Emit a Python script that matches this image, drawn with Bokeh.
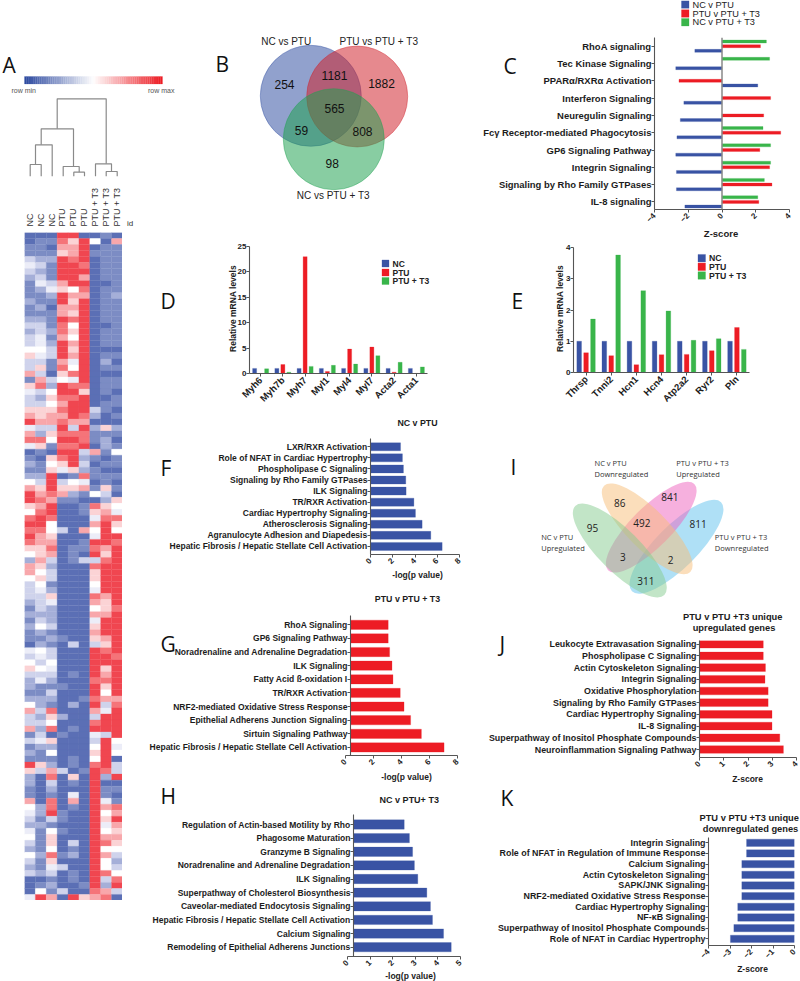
import math
from bokeh.embed import file_html
from bokeh.resources import INLINE
from bokeh.plotting import figure
from bokeh.layouts import column
from bokeh.models import Range1d, FactorRange, FixedTicker, Label, Span, ColumnDataSource
from bokeh.transform import dodge

BLUE, RED, GREEN = "#3953a4", "#ed1c24", "#39b54a"
INK = "#1c1c1c"
AXIS = "#555555"
BOLD = "Liberation Sans"

# ---------- data ----------
SAMPLES = ["NC", "NC", "NC", "PTU", "PTU", "PTU", "PTU + T3", "PTU + T3", "PTU + T3"]
HEAT_NC1 = ("0011343211" "12112323"
            "3563371643" "3679478401" "2125799658" "9898652775" "3332121211" "043"
            "5632212573" "3713121962" "2117543245" "3253230004")
HEAT_NC2 = ("0111232342" "11212334"
            "4543637832" "3667328610" "1123678789" "9877667656" "5433323521" "254"
            "3534112232" "3234211630" "0000221211" "1121120159")
HEAT_NC3 = ("0101211134" "21011121"
            "2331103256" "5677365106" "5699987998" "5567873233" "1264222312" "133"
            "5432132186" "5806251278" "3218893156" "6586431217")
HEAT_PTU1 = ("9876999976" "99779887"
             "9997865998" "7878989898" "6403671000" "0300000000" "0000000001" "000"
             "0000100002" "0010000030" "0000011010" "0010300030")
HEAT_PTU2 = ("9677899995" "76768565"
             "7674584898" "9997389899" "9615621000" "0000111000" "0000000000" "300"
             "0010000200" "0100001106" "1047100000" "3120011009")
HEAT_PTU3 = ("0999989798" "79999999"
             "9999999869" "9987988932" "3284710110" "0701103000" "0000000000" "000"
             "0000001000" "0000000010" "0000000000" "0000000106")
HEAT_T31 = ("0501000000" "00000000"
            "0000000000" "0320211071" "0110150864" "7549893866" "5487574676" "399"
            "9998998973" "8943565899" "9999999999" "9999999987")
HEAT_T32 = ("1011111101" "11111011"
            "1012101110" "1100612210" "1011632678" "9999768999" "9976679997" "689"
            "9678657349" "9939999982" "0114756457" "8575583278")
HEAT_T33 = ("0711111111" "21111111"
            "1010101101" "1010210151" "1010106548" "6598999999" "9999899999" "998"
            "9999997899" "9995450339" "0101879767" "6532358930")
HEAT_LEVELS = ["#5b6fb5", "#7c8cc4", "#a5afd8", "#cfd3ec", "#ecedf8",
               "#ffffff", "#fbd3d5", "#f8a7ab", "#f57479", "#f04650"]

# merge: x-left, x-right, height, left leg end, right leg end
DENDRO = [(56.7, 105.7, 98.3, 128.3, 163.3),
          (40.7, 73.0, 128.3, 144.3, 165.7),
          (35.0, 51.7, 144.3, 164.0, 175.7),
          (29.7, 40.7, 164.0, 175.7, 175.7),
          (62.7, 78.7, 166.0, 175.7, 171.7),
          (73.3, 84.0, 171.7, 175.7, 175.7),
          (95.0, 111.0, 163.3, 175.7, 171.0),
          (105.7, 116.7, 171.0, 175.7, 175.7)]

C_PATHS = ["RhoA signaling", "Tec Kinase Signaling", "PPARα/RXRα Activation", "Interferon Signaling",
           "Neuregulin Signaling", "Fcγ Receptor-mediated Phagocytosis", "GP6 Signaling Pathway",
           "Integrin Signaling", "Signaling by Rho Family GTPases", "IL-8 signaling"]
C_NC_PTU = [-1.61, -2.74, 2.12, -2.26, -2.47, -2.67, -2.74, -2.70, -2.70, -2.20]
C_PTU_T3 = [2.28, None, -2.55, 2.88, 2.47, 3.48, 2.24, 2.82, 2.96, 2.18]
C_NC_T3 = [2.63, 2.82, None, None, None, 2.43, 2.88, 2.88, 2.51, 2.12]

D_GENES = ["Myh6", "Myh7b", "Myh7", "Myl1", "Myl4", "Myl7", "Acta2", "Acta1"]
D_NC = [1, 1, 1, 1, 1, 1, 1, 1]
D_PTU = [0.02, 1.76, 23, 0.4, 4.8, 5.2, 0.25, 0.02]
D_T3 = [0.92, 0.25, 1.4, 1.6, 1.85, 3.5, 2.2, 1.3]

E_GENES = ["Thrsp", "Tnni2", "Hcn1", "Hcn4", "Atp2a2", "Ryr2", "Pln"]
E_NC = [1, 1, 1, 1, 1, 1, 1]
E_PTU = [0.63, 0.54, 0.25, 0.57, 0.58, 0.70, 1.44]
E_T3 = [1.71, 3.76, 2.62, 1.97, 1.03, 1.08, 0.74]

F_PATHS = ["LXR/RXR Activation", "Role of NFAT in Cardiac Hypertrophy", "Phospholipase C Signaling",
           "Signaling by Rho Family GTPases", "ILK Signaling", "TR/RXR Activation",
           "Cardiac Hypertrophy Signaling", "Atherosclerosis Signaling",
           "Agranulocyte Adhesion and Diapedesis", "Hepatic Fibrosis / Hepatic Stellate Cell Activation"]
F_VALS = [2.7, 2.87, 2.96, 3.17, 3.2, 3.9, 4.04, 4.64, 5.42, 6.44]

G_PATHS = ["RhoA Signaling", "GP6 Signaling Pathway", "Noradrenaline and Adrenaline Degradation",
           "ILK Signaling", "Fatty Acid ß-oxidation I", "TR/RXR Activation",
           "NRF2-mediated Oxidative Stress Response", "Epithelial Adherens Junction Signaling",
           "Sirtuin Signaling Pathway", "Hepatic Fibrosis / Hepatic Stellate Cell Activation"]
G_VALS = [3.05, 3.05, 3.15, 3.32, 3.39, 3.91, 4.18, 4.65, 5.42, 7.04]

H_PATHS = ["Regulation of Actin-based Motility by Rho", "Phagosome Maturation", "Granzyme B Signaling",
           "Noradrenaline and Adrenaline Degradation", "ILK Signaling",
           "Superpathway of Cholesterol Biosynthesis", "Caveolar-mediated Endocytosis Signaling",
           "Hepatic Fibrosis / Hepatic Stellate Cell Activation", "Calcium Signaling",
           "Remodeling of Epithelial Adherens Junctions"]
H_VALS = [2.51, 2.74, 2.88, 2.96, 3.11, 3.51, 3.67, 3.76, 4.25, 4.59]

J_PATHS = ["Leukocyte Extravasation Signaling", "Phospholipase C Signaling", "Actin Cytoskeleton Signaling",
           "Integrin Signaling", "Oxidative Phosphorylation", "Signaling by Rho Family GTPases",
           "Cardiac Hypertrophy Signaling", "IL-8 Signaling",
           "Superpathway of Inositol Phosphate Compounds", "Neuroinflammation Signaling Pathway"]
J_VALS = [2.63, 2.63, 2.72, 2.70, 2.83, 2.83, 2.99, 2.99, 3.31, 3.46]

K_PATHS = ["Integrin Signaling", "Role of NFAT in Regulation of Immune Response", "Calcium Signaling",
           "Actin Cytoskeleton Signaling", "SAPK/JNK Signaling", "NRF2-mediated Oxidative Stress Response",
           "Cardiac Hypertrophy Signaling", "NF-κB Signaling",
           "Superpathway of Inositol Phosphate Compounds", "Role of NFAT in Cardiac Hypertrophy"]
K_VALS = [-2.23, -2.23, -2.45, -2.45, -2.45, -2.45, -2.64, -2.64, -2.82, -2.98]

VENN_B_SETS = ["NC vs PTU", "PTU vs PTU + T3", "NC vs PTU + T3"]
VENN_B_COUNTS = ["254", "1181", "1882", "565", "59", "808", "98"]
VENN_I_COUNTS = ["95", "86", "841", "492", "811", "3", "2", "311"]

# ---------- helpers ----------
panels = []


def base(width, height, x_range, y_range, left, right, top, bottom):
    p = figure(width=width, height=height, x_range=x_range, y_range=y_range,
               toolbar_location=None, output_backend="svg", min_border_left=left,
               min_border_right=right, min_border_top=top, min_border_bottom=bottom,
               background_fill_color=None, border_fill_color=None, outline_line_color=None)
    p.grid.visible = False
    p.frame_align = False
    return p


def style_axis(ax, size, tick_size=None, standoff=2):
    ax.axis_line_color = AXIS
    ax.axis_line_width = 1.1
    ax.major_tick_line_color = AXIS
    ax.major_tick_out = 3
    ax.major_tick_in = 0
    ax.minor_tick_line_color = None
    ax.major_label_text_font = BOLD
    ax.major_label_text_font_style = "bold"
    ax.major_label_text_color = INK
    ax.major_label_text_font_size = f"{tick_size or size}px"
    ax.major_label_standoff = standoff


def hbar_panel(paths, vals, color, pleft, x0, x1, vmin, vmax, ticks, top, bottom, first, step,
               barh, axis_px=None, lab=8):
    """axis_px: page x of the y axis when it stands off from the x axis' zero tick."""
    ptop = top - 4
    width = x1 + 6 - pleft
    height = bottom + 28 - ptop
    rng_y = Range1d((bottom - first) / step, (top - first) / step)
    if axis_px is not None:
        # the x axis runs a little further left than the y axis: it gets a frame of its own
        px = base(width, height, Range1d(vmin, vmax), Range1d(0, 1), x0 - pleft, 6, top - ptop, 28)
        style_axis(px.xaxis[0], lab, 8)
        px.xaxis[0].ticker = FixedTicker(ticks=ticks)
        px.xaxis[0].major_label_orientation = math.pi / 4
        px.yaxis.visible = False
        panels.append((px, pleft, ptop))
        start = vmin + (axis_px - x0) * (vmax - vmin) / (x1 - x0)
        p = base(width, height, Range1d(start, vmax), rng_y, axis_px - pleft, 6, top - ptop, 28)
        p.xaxis.visible = False
        bar_from = start
    else:
        p = base(width, height, Range1d(vmin, vmax), rng_y, x0 - pleft, 6, top - ptop, 28)
        style_axis(p.xaxis[0], lab, 8)
        p.xaxis[0].ticker = FixedTicker(ticks=ticks)
        p.xaxis[0].major_label_orientation = math.pi / 4
        bar_from = 0
    p.hbar(y=list(range(len(vals))), left=bar_from, right=vals, height=barh / step,
           fill_color=color, line_color=color, line_alpha=0.25)
    style_axis(p.yaxis[0], lab, standoff=0)
    p.yaxis[0].ticker = FixedTicker(ticks=list(range(len(vals))))
    p.yaxis[0].major_label_overrides = {i: s for i, s in enumerate(paths)}
    panels.append((p, pleft, ptop))
    return p


def group_panel(genes, nc, ptu, t3, pleft, x0, x1, top, bottom, ymax, ticks, step_frac, w_frac):
    ptop = top - 6
    rr = FactorRange(factors=genes, factor_padding=0, range_padding=0)
    p = base(x1 + 4 - pleft, bottom + 36 - ptop, rr, Range1d(0, ymax), x0 - pleft, 4, top - ptop, 36)
    src = ColumnDataSource(dict(g=genes, nc=nc, ptu=ptu, t3=t3))
    for col, off, c in (("nc", -step_frac, BLUE), ("ptu", 0, RED), ("t3", step_frac, GREEN)):
        p.vbar(x=dodge("g", off, range=rr), top=col, bottom=0, width=w_frac, source=src,
               fill_color=c, line_color=c, line_alpha=0.25)
    style_axis(p.yaxis[0], 8, standoff=0)
    p.yaxis[0].ticker = FixedTicker(ticks=ticks)
    style_axis(p.xaxis[0], 9.5)
    p.xaxis[0].major_label_orientation = math.pi / 4
    panels.append((p, pleft, ptop))
    return p


# ---------- A heatmap ----------
heat_cols = [HEAT_NC1, HEAT_NC2, HEAT_NC3, HEAT_PTU1, HEAT_PTU2, HEAT_PTU3, HEAT_T31, HEAT_T32, HEAT_T33]
nrows = len(HEAT_NC1)
L, R, T, B, C = [], [], [], [], []
for ci, col in enumerate(heat_cols):
    for ri, ch in enumerate(col):
        L.append(ci); R.append(ci + 1); T.append(ri); B.append(ri + 1)
        C.append(HEAT_LEVELS[int(ch)])
hm = base(98, 668, Range1d(0, 9), Range1d(nrows, 0), 0, 0, 0, 0)
hm.quad(left=L, right=R, top=T, bottom=B, fill_color=C, line_color=C, line_width=0.3)
hm.xaxis.visible = False
hm.yaxis.visible = False
panels.append((hm, 24, 232))

# ---------- C ----------
c_top, c_bot = 37, 209
c_first, c_step = 45.7, 17.3
c_rng = Range1d((c_bot - c_first) / c_step, (c_top - c_first) / c_step)
pc = base(800 - 480, c_bot + 34 - (c_top - 4), Range1d(-4, 4), c_rng, 652 - 480, 800 - 789, 4, 34)
for vals, off, color in ((C_NC_T3, -14 / 3, GREEN), (C_PTU_T3, 0, RED), (C_NC_PTU, 14 / 3, BLUE)):
    yy = [i + off / c_step for i, v in enumerate(vals) if v is not None]
    vv = [v for v in vals if v is not None]
    pc.hbar(y=yy, left=0, right=vv, height=3 / c_step, fill_color=color, line_color=color, line_alpha=0.25)
pc.add_layout(Span(location=0, dimension="height", line_color="#888888", line_width=1.5))
style_axis(pc.yaxis[0], 9.45, standoff=0)
pc.yaxis[0].ticker = FixedTicker(ticks=list(range(10)))
pc.yaxis[0].major_label_overrides = {i: s for i, s in enumerate(C_PATHS)}
style_axis(pc.xaxis[0], 9, 8)
pc.xaxis[0].ticker = FixedTicker(ticks=[-4, -2, 0, 2, 4])
pc.xaxis[0].major_label_orientation = math.pi / 4
panels.append((pc, 480, c_top - 4))

# ---------- D / E ----------
group_panel(D_GENES, D_NC, D_PTU, D_T3, 210, 249, 427, 246, 374, 25, [0, 5, 10, 15, 20, 25], 0.27, 0.18)
group_panel(E_GENES, E_NC, E_PTU, E_T3, 530, 573, 749, 247, 374, 4, [0, 1, 2, 3, 4], 0.274, 0.185)

# ---------- F G H J K ----------
hbar_panel(F_PATHS, F_VALS, BLUE, 142, 370, 459, 0, 8, [0, 2, 4, 6, 8], 438, 554, 446.3, 11.07, 8, lab=8.5)
hbar_panel(G_PATHS, G_VALS, RED, 140, 345, 457, 0, 8, [0, 2, 4, 6, 8], 615, 755, 624.3, 13.63, 9.3, axis_px=350, lab=8.5)
hbar_panel(H_PATHS, H_VALS, BLUE, 140, 347, 460, 0, 5, [0, 1, 2, 3, 4, 5], 814, 956, 824, 13.63, 9.3, axis_px=353, lab=8.5)
hbar_panel(J_PATHS, J_VALS, RED, 482, 699, 796, 0, 4, [0, 1, 2, 3, 4], 640, 757, 643.7, 11.7, 7.7, lab=8.9)
hbar_panel(K_PATHS, K_VALS, BLUE, 482, 708, 794, -4, 0, [-4, -3, -2, -1, 0], 837, 945, 842.3, 10.67, 7.3, lab=8.9)

# ---------- overlay: everything in page coordinates ----------
ov_w, ov_h = 800, 981
ov = base(ov_w, ov_h, Range1d(0, ov_w), Range1d(ov_h, 0), 0, 0, 0, 0)
ov.xaxis.visible = False
ov.yaxis.visible = False


def txt(x, y, s, size=8, bold=False, align="left", font=BOLD, color=INK, angle=0, baseline="middle"):
    ov.add_layout(Label(x=x, y=y, text=s, text_font_size=f"{size}px", text_font=font,
                        text_font_style="bold" if bold else "normal", text_align=align,
                        text_baseline=baseline, text_color=color, angle=angle))


# panel letters
for s, x, y in (("A", 2, 64), ("B", 215, 63), ("C", 503, 65), ("D", 160, 300), ("E", 511, 300),
                ("F", 160, 467), ("G", 160, 643), ("H", 160, 795), ("I", 510, 466),
                ("J", 499, 643), ("K", 500, 797)):
    txt(x, y, s, size=21, font="Open Sans", color="#111111", baseline="alphabetic")

# colour bar
n = 64
bl, wh, rd = (45, 74, 160), (255, 255, 255), (237, 28, 36)
lefts, rights, cols = [], [], []
for i in range(n):
    f = i / (n - 1)
    a, b, t = (bl, wh, f * 2) if f < 0.5 else (wh, rd, (f - 0.5) * 2)
    cols.append("#%02x%02x%02x" % tuple(int(a[k] + (b[k] - a[k]) * t) for k in range(3)))
    lefts.append(24 + i * 138 / n)
    rights.append(24 + (i + 1) * 138 / n)
ov.quad(left=lefts, right=rights, top=76, bottom=83.5, fill_color=cols, line_color=cols, line_width=0.2)
txt(11, 90, "row min", 7, color="#555555")
txt(147.5, 90, "row max", 7, color="#555555")

# dendrogram
dx, dy = [], []
for xl, xr, h, e1, e2 in DENDRO:
    dx.append([xl, xl, xr, xr])
    dy.append([e1, h, h, e2])
ov.multi_line(dx, dy, line_color="#8a8a8a", line_width=1.2)

# sample labels
for i, s in enumerate(SAMPLES):
    txt(24 + 10.85 * (i + 0.5), 226, s, 9, color="#333333", angle=math.pi / 2)
txt(126.5, 223, "id", 8, color="#333333")

# venn B
for cx, cy, c in ((310.3, 95.3, "#2f4ea0"), (356.7, 96, "#d0202a"), (333.3, 138.7, "#1fa050")):
    ov.ellipse(x=cx, y=cy, width=101, height=101, fill_color=c, fill_alpha=0.53, line_color=c, line_alpha=0.4)
txt(285.7, 41, VENN_B_SETS[0], 10, align="center", color="#222222")
txt(339, 41, VENN_B_SETS[1], 10, color="#222222")
txt(332.7, 194.5, VENN_B_SETS[2], 10, align="center", color="#222222")
for s, x, y in zip(VENN_B_COUNTS, (284, 334, 381, 334, 301, 362, 331.7), (83.7, 75, 83.3, 107.7, 130, 131, 163.3)):
    txt(x, y, s, 12, align="center", color="#111111")

# legends
for lx, ly, labs, bold, size, sq in ((681, (4, 13, 21.7), ("NC v PTU", "PTU v PTU + T3", "NC v PTU + T3"), False, 9.2, 7.5),
                                     (381.5, (263, 272, 280.5), ("NC", "PTU", "PTU + T3"), True, 8.5, 7),
                                     (697.5, (257.7, 266.3, 275), ("NC", "PTU", "PTU + T3"), True, 8.7, 7.5)):
    for yy, s, c in zip(ly, labs, (BLUE, RED, GREEN)):
        ov.quad(left=lx, right=lx + sq, top=yy - sq / 2, bottom=yy + sq / 2, fill_color=c, line_color=c, line_alpha=0.3)
        txt(lx + sq + 3.5, yy, s, size, bold=bold, color="#222222")

# axis names and titles
txt(232, 308, "Relative mRNA levels", 8.5, bold=True, align="center", angle=math.pi / 2)
txt(559, 308, "Relative mRNA levels", 8.5, bold=True, align="center", angle=math.pi / 2)
txt(720.5, 233, "Z-score", 9.5, bold=True, align="center")
txt(417, 574, "-log(p value)", 8.5, bold=True, align="center")
txt(406, 776, "-log(p value)", 8.5, bold=True, align="center")
txt(410, 975, "-log(p value)", 8.5, bold=True, align="center")
txt(747, 778, "Z-score", 8.5, bold=True, align="center")
txt(752, 968, "Z-score", 8.5, bold=True, align="center")
txt(417, 422, "NC v PTU", 8.8, bold=True, align="center")
txt(407, 598, "PTU v PTU + T3", 8.8, bold=True, align="center")
txt(410, 799, "NC v  PTU+ T3", 9, bold=True, align="center")
txt(733.5, 616.7, "PTU v  PTU +T3 unique", 9.3, bold=True, align="center")
txt(733.5, 627, "upregulated genes", 9.3, bold=True, align="center")
txt(750, 817, "PTU v  PTU +T3 unique", 9.3, bold=True, align="center")
txt(750, 828, "downregulated genes", 9.3, bold=True, align="center")

# venn I
for cx, cy, c, w, h, ang in ((676, 546.3, "#5fc2ee", 126, 42, 1), (650.7, 526.7, "#ee62bd", 122, 40, 1),
                             (646.7, 528.3, "#f8be78", 122, 40, -1), (619.3, 550, "#85cc8f", 126, 42, -1)):
    ov.ellipse(x=cx, y=cy, width=w, height=h, angle=ang * math.pi / 4, fill_color=c, fill_alpha=0.5, line_color=None)
for s, x, y in zip(VENN_I_COUNTS, (592, 619.3, 669.3, 641.3, 697.7, 622.3, 670, 645.3),
                   (527.3, 502.3, 496.7, 522.7, 523.3, 556.7, 559, 580.7)):
    txt(x, y, s, 10, align="center", font="Open Sans", color="#222222")
for x, y, a, b in ((594, 462.7, "NC v PTU", "Downregulated"), (675.7, 462.7, "PTU v PTU + T3", "Upregulated"),
                   (540.7, 536.7, "NC v PTU", "Upregulated"), (714.3, 536.7, "PTU v PTU + T3", "Downregulated")):
    txt(x, y, a, 7.5, font="Open Sans", color="#333333")
    txt(x, y + 10.3, b, 7.5, font="Open Sans", color="#333333")

panels.append((ov, 0, 0))

# ---------- page assembly: each figure is pinned at its page position ----------
for fig, left, top in panels:
    fig.styles = {"position": "absolute", "left": f"{left}px", "top": f"{top}px"}
root = column(*[f for f, _, _ in panels], width=800, height=981,
              styles={"position": "absolute", "left": "0px", "top": "0px"})
open("out.html", "w").write(file_html(root, INLINE))
